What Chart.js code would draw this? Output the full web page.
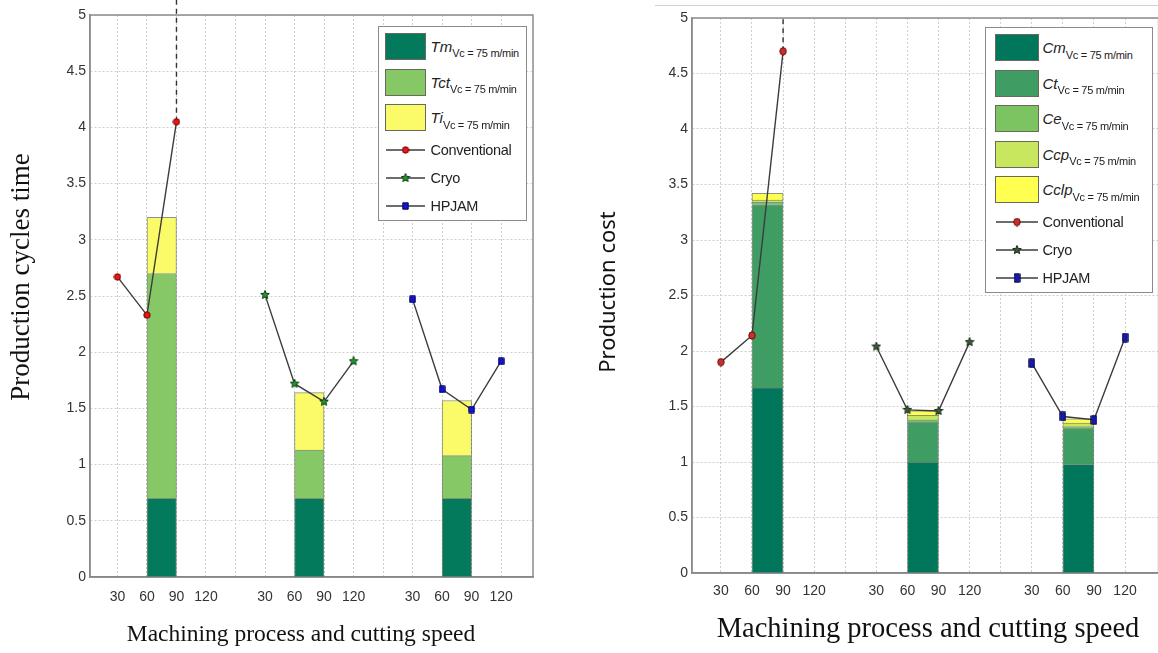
<!DOCTYPE html>
<html>
<head>
<meta charset="utf-8">
<script src="https://cdn.jsdelivr.net/npm/chart.js@4.4.1/dist/chart.umd.min.js"></script>
<style>
  body { margin: 0; background: #fff; width: 1158px; height: 653px; overflow: hidden; position: relative; font-family: "Liberation Sans", Arial, sans-serif; }
  .wrap { position: absolute; top: 0; height: 653px; }
  #leftWrap { left: 0; width: 560px; }
  #rightWrap { left: 580px; width: 584px; }
  .legend { position: absolute; background: #fff; border: 1.5px solid #8a8a8a; box-sizing: border-box; }
  .row { display: flex; align-items: center; }
  .patch { height: 27px; border: 1.5px solid #6a6a5a; box-sizing: border-box; flex: none; }
  .sym { font-style: italic; font-size: 15px; color: #222; }
  .sub { font-size: 11px; position: relative; top: 7px; color: #222; letter-spacing: -0.3px; }
  .lbl { font-size: 14.5px; color: #222; letter-spacing: -0.3px; }
  #topline { position: absolute; left: 655px; top: 5px; width: 503px; border-top: 1px solid #d0d0d0; }
</style>
</head>
<body>
<div id="topline"></div>
<div class="wrap" id="leftWrap"><canvas id="timeChart" width="560" height="653"></canvas></div>
<div class="wrap" id="rightWrap"><canvas id="costChart" width="584" height="653"></canvas></div>
<script>
// --- 数据 ---
// x 轴槽位：每组 30/60/90/120，组间空一格
const tickLabels = ['30', '60', '90', '120', '', '30', '60', '90', '120', '', '30', '60', '90', '120'];
const barSlots = [1.5, 6.5, 11.5];
const convSlots = [0, 1, 2];
const cryoSlots = [5, 6, 7, 8];
const hpjamSlots = [10, 11, 12, 13];
const tailSlots = [2, 2];

// 左图：生产周期时间
const timeTm = [0.7, 0.7, 0.7];
const timeTct = [2.0, 0.43, 0.38];
const timeTi = [0.5, 0.51, 0.49];
const timeConv = [2.67, 2.33, 4.05];
const timeCryo = [2.51, 1.72, 1.56, 1.92];
const timeHpjam = [2.47, 1.67, 1.49, 1.92];
const timeConvTail = [4.05, 5.15];

// 右图：生产成本
const costCm = [1.67, 1.0, 0.98];
const costCt = [1.65, 0.36, 0.32];
const costCe = [0.02, 0.02, 0.02];
const costCcp = [0.02, 0.04, 0.03];
const costCclp = [0.06, 0.04, 0.04];
const costConv = [1.9, 2.14, 4.7];
const costCryo = [2.04, 1.47, 1.46, 2.08];
const costHpjam = [1.89, 1.41, 1.38, 2.12];
const costConvTail = [4.7, 5.0];

const pts = (xs, ys) => xs.map((x, i) => ({ x: x, y: ys[i] }));

// --- 标记图形 ---
const makeMarker = (shape, fill, stroke, w, h) => {
  const c = document.createElement('canvas');
  c.width = w; c.height = h;
  const ctx = c.getContext('2d');
  ctx.fillStyle = fill;
  ctx.strokeStyle = stroke;
  ctx.lineWidth = 1;
  ctx.beginPath();
  if (shape === 'circle') {
    ctx.ellipse(w / 2, h / 2, w / 2 - 0.8, h / 2 - 0.8, 0, 0, Math.PI * 2);
  } else if (shape === 'star') {
    for (let i = 0; i < 10; i++) {
      const r = i % 2 === 0 ? w / 2 - 0.5 : w / 5;
      const a = -Math.PI / 2 + i * Math.PI / 5;
      ctx.lineTo(w / 2 + r * Math.cos(a), h / 2 + r * Math.sin(a));
    }
    ctx.closePath();
  } else {
    ctx.rect(0.8, 0.8, w - 1.6, h - 1.6);
  }
  ctx.fill();
  ctx.stroke();
  return c;
};

// 外框 + 轴标题
const framePlugin = {
  id: 'frame',
  beforeDatasetsDraw: (chart) => {
    const { ctx, chartArea: a } = chart;
    ctx.save();
    ctx.strokeStyle = '#8c8c8c';
    ctx.lineWidth = 1.5;
    ctx.strokeRect(a.left, a.top, a.right - a.left, a.bottom - a.top);
    ctx.restore();
  },
  afterDraw: (chart, args, opts) => {
    const ctx = chart.ctx;
    (opts.titles || []).forEach(t => {
      ctx.save();
      ctx.translate(t.x, t.y);
      ctx.rotate(t.rot || 0);
      ctx.font = t.font;
      ctx.fillStyle = '#111';
      ctx.textAlign = 'center';
      ctx.textBaseline = 'middle';
      ctx.fillText(t.text, 0, 0);
      ctx.restore();
    });
  }
};

const barSet = (label, data, color) => ({
  type: 'bar', label: label, data: pts(barSlots, data), backgroundColor: color,
  borderColor: 'rgba(40,60,30,0.55)', borderWidth: 1, stack: 'bars', order: 1,
  categoryPercentage: 1, barPercentage: 1
});

const lineSet = (label, xs, ys, marker, stack) => ({
  type: 'line', label: label, data: pts(xs, ys), borderColor: '#3c3c3c', borderWidth: 1.4,
  pointStyle: marker, pointRadius: 4, stack: stack, order: 0
});

const tailSet = (ys, clip) => ({
  type: 'line', label: 'tail', data: pts(tailSlots, ys), borderColor: '#333', borderWidth: 1.4,
  borderDash: [5, 4], pointRadius: 0, stack: 'tail', order: 0, clip: clip
});

const makeChart = (id, datasets, cfg) => new Chart(document.getElementById(id), {
  data: { datasets: datasets },
  plugins: [framePlugin],
  options: {
    responsive: false,
    animation: false,
    events: [],
    layout: { padding: { left: 0, right: cfg.padRight, top: cfg.padTop, bottom: 0 } },
    plugins: {
      legend: { display: false },
      tooltip: { enabled: false },
      frame: { titles: cfg.titles }
    },
    scales: {
      x: {
        type: 'linear', min: -0.93, max: 14.08, bounds: 'data', offset: false, stacked: true,
        afterFit: (s) => { s.height = cfg.xHeight; },
        // 每个槽位一个刻度
        afterBuildTicks: (s) => { s.ticks = tickLabels.map((_, i) => ({ value: i })); },
        ticks: {
          autoSkip: false, maxRotation: 0, padding: cfg.xTickPad,
          color: '#333', font: { family: 'Liberation Sans', size: 14 },
          callback: (v) => tickLabels[v] || ''
        },
        grid: { color: '#cfcfcf', lineWidth: 1, drawTicks: false, offset: false },
        border: { color: '#777', width: 1.5, dash: [2, 2] }
      },
      y: {
        min: 0, max: 5, stacked: true,
        afterFit: (s) => { s.width = cfg.yWidth; },
        ticks: {
          stepSize: 0.5, padding: 4, color: '#333', font: { family: 'Liberation Sans', size: 14 },
          callback: (v) => String(v)
        },
        grid: { color: '#cfcfcf', lineWidth: 1, drawTicks: false },
        border: { color: '#8c8c8c', width: 1.5, dash: [2, 2] }
      }
    }
  }
});

const xTitle = 'Machining process and cutting speed';

// --- 左图 ---
const tConvM = makeMarker('circle', '#e01818', '#7a0000', 8, 8);
const tCryoM = makeMarker('star', '#1f9a2a', '#0b3a10', 10, 10);
const tHpM = makeMarker('rect', '#1414d0', '#00006a', 7, 8);

makeChart('timeChart', [
  lineSet('Conventional', convSlots, timeConv, tConvM, 'conv'),
  lineSet('Cryo', cryoSlots, timeCryo, tCryoM, 'cryo'),
  lineSet('HPJAM', hpjamSlots, timeHpjam, tHpM, 'hp'),
  tailSet(timeConvTail, false),
  barSet('Tm', timeTm, '#037a5c'),
  barSet('Tct', timeTct, '#86c865'),
  barSet('Ti', timeTi, '#fbfb6a')
], {
  padRight: 27, padTop: 15, xHeight: 76, yWidth: 90, xTickPad: 12,
  titles: [
    { text: 'Production cycles time', x: 22, y: 277, rot: -Math.PI / 2, font: '27px "Liberation Serif"' },
    { text: xTitle, x: 301, y: 635, font: '23.5px "Liberation Serif"' }
  ]
});

// --- 右图（右侧边框在画面外） ---
const cConvM = makeMarker('circle', '#c8302a', '#6a0a0a', 8, 9);
const cCryoM = makeMarker('star', '#3a5a3a', '#1a2a1a', 10, 10);
const cHpM = makeMarker('rect', '#1a1aa8', '#0a0a50', 7, 10);

makeChart('costChart', [
  lineSet('Conventional', convSlots, costConv, cConvM, 'conv'),
  lineSet('Cryo', cryoSlots, costCryo, cCryoM, 'cryo'),
  lineSet('HPJAM', hpjamSlots, costHpjam, cHpM, 'hp'),
  tailSet(costConvTail, true),
  barSet('Cm', costCm, '#00775a'),
  barSet('Ct', costCt, '#3f9c63'),
  barSet('Ce', costCe, '#7cc462'),
  barSet('Ccp', costCcp, '#c8e65e'),
  barSet('Cclp', costCclp, '#ffff50')
], {
  padRight: 3, padTop: 18, xHeight: 80, yWidth: 112, xTickPad: 10,
  titles: [
    { text: 'Production cost', x: 29, y: 292, rot: -Math.PI / 2, font: '22px "Noto Sans"' },
    { text: xTitle, x: 348, y: 630, font: '28.5px "Liberation Serif"' }
  ]
});

// --- 图例（带下标） ---
const buildLegend = (box, patches, lines) => {
  const el = document.createElement('div');
  el.className = 'legend';
  Object.assign(el.style, { left: box.left + 'px', top: box.top + 'px', width: box.width + 'px', paddingTop: box.padTop + 'px', paddingLeft: box.padLeft + 'px' });
  patches.forEach(p => {
    const row = document.createElement('div');
    row.className = 'row';
    row.style.height = box.patchRow + 'px';
    row.innerHTML = `<div class="patch" style="width:${box.patchW}px;margin-right:${box.gap}px;background:${p.color}"></div>` +
      `<span class="sym">${p.sym}</span><span class="sub">Vc = 75 m/min</span>`;
    el.appendChild(row);
  });
  lines.forEach(l => {
    const row = document.createElement('div');
    row.className = 'row';
    row.style.height = box.lineRow + 'px';
    const c = document.createElement('canvas');
    c.width = box.patchW; c.height = 14;
    c.style.marginRight = box.gap + 'px';
    const ctx = c.getContext('2d');
    ctx.strokeStyle = '#3c3c3c';
    ctx.lineWidth = 1.6;
    ctx.beginPath(); ctx.moveTo(1, 7); ctx.lineTo(box.patchW - 1, 7); ctx.stroke();
    ctx.drawImage(l.marker, (box.patchW - l.marker.width) / 2, 7 - l.marker.height / 2);
    row.appendChild(c);
    const t = document.createElement('span');
    t.className = 'lbl';
    t.textContent = l.name;
    row.appendChild(t);
    el.appendChild(row);
  });
  document.body.appendChild(el);
};

buildLegend({ left: 378, top: 26, width: 149, padTop: 1.5, padLeft: 5.5, patchRow: 35.7, lineRow: 28, patchW: 41, gap: 5 },
  [{ sym: 'Tm', color: '#037a5c' }, { sym: 'Tct', color: '#86c865' }, { sym: 'Ti', color: '#fbfb6a' }],
  [{ name: 'Conventional', marker: tConvM }, { name: 'Cryo', marker: tCryoM }, { name: 'HPJAM', marker: tHpM }]);

buildLegend({ left: 985, top: 27, width: 168, padTop: 2, padLeft: 8.5, patchRow: 35.5, lineRow: 28, patchW: 44, gap: 4 },
  [{ sym: 'Cm', color: '#00775a' }, { sym: 'Ct', color: '#3f9c63' }, { sym: 'Ce', color: '#7cc462' },
   { sym: 'Ccp', color: '#c8e65e' }, { sym: 'Cclp', color: '#ffff50' }],
  [{ name: 'Conventional', marker: cConvM }, { name: 'Cryo', marker: cCryoM }, { name: 'HPJAM', marker: cHpM }]);
</script>
</body>
</html>
